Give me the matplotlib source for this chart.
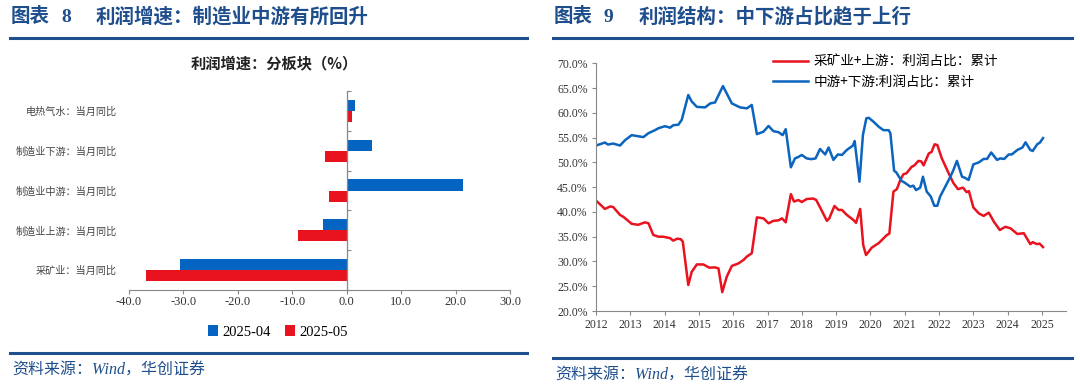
import matplotlib
matplotlib.use("Agg")
import matplotlib.pyplot as plt
import numpy as np

plt.rcParams['font.family'] = ['Noto Sans CJK SC', 'DejaVu Sans']

# ---------------- data: left bar chart ----------------
categories = ['采矿业：当月同比', '制造业上游：当月同比', '制造业中游：当月同比',
              '制造业下游：当月同比', '电热气水：当月同比']
apr_2025 = [-30.7, -4.3, 21.3, 4.6, 1.5]
may_2025 = [-36.8, -8.9, -3.2, -3.9, 0.9]
bar_labels = ['2025-04', '2025-05']
x_ticks_left = [-40, -30, -20, -10, 0, 10, 20, 30]

# ---------------- data: right line chart ----------------
blue_t = [2012.00, 2012.26, 2012.35, 2012.50, 2012.70, 2012.85, 2013.04, 2013.38, 2013.53, 2013.72,
          2013.82, 2014.01, 2014.16, 2014.25, 2014.40, 2014.50, 2014.69, 2014.79, 2014.94, 2015.18,
          2015.33, 2015.47, 2015.70, 2015.96, 2016.20, 2016.40, 2016.54, 2016.69, 2016.88, 2017.03,
          2017.17, 2017.32, 2017.44, 2017.53, 2017.68, 2017.80, 2017.90, 2018.00, 2018.14, 2018.28,
          2018.40, 2018.53, 2018.68, 2018.78, 2018.92, 2019.05, 2019.17, 2019.31, 2019.49, 2019.54,
          2019.68, 2019.78, 2019.88, 2019.95, 2020.09, 2020.24, 2020.38, 2020.53, 2020.58, 2020.69,
          2020.75, 2020.91, 2021.00, 2021.16, 2021.25, 2021.33, 2021.45, 2021.53, 2021.64, 2021.76,
          2021.86, 2021.95, 2022.03, 2022.18, 2022.33, 2022.42, 2022.52, 2022.67, 2022.75, 2022.86,
          2023.00, 2023.16, 2023.30, 2023.40, 2023.52, 2023.69, 2023.78, 2023.90, 2024.03, 2024.12,
          2024.28, 2024.43, 2024.52, 2024.66, 2024.73, 2024.86, 2024.94, 2025.03]
blue_v = [53.4, 54.0, 53.6, 53.8, 53.4, 54.5, 55.5, 55.1, 55.9, 56.5,
          56.9, 57.3, 57.0, 57.5, 57.6, 58.6, 63.6, 62.3, 61.2, 61.1,
          61.9, 62.1, 65.4, 61.9, 61.1, 60.9, 61.6, 55.7, 56.2, 57.35,
          56.3, 56.1, 55.5, 56.7, 49.0, 50.8, 51.1, 51.5, 50.8, 50.65,
          50.8, 52.7, 51.6, 53.0, 50.5, 51.6, 51.5, 52.5, 53.4, 54.3,
          46.1, 55.5, 58.9, 59.0, 58.2, 57.2, 56.5, 56.5, 55.9, 48.3,
          48.0, 46.25, 45.9, 45.1, 45.3, 44.4, 44.9, 47.1, 44.1, 43.1,
          41.25, 41.25, 43.1, 45.1, 47.1, 48.5, 50.3, 47.1, 46.9, 46.45,
          49.6, 50.0, 50.7, 50.7, 52.0, 50.5, 50.8, 50.7, 51.6, 51.6,
          52.5, 53.0, 54.05, 52.5, 52.3, 53.65, 54.0, 54.9]

red_t = [2012.00, 2012.26, 2012.41, 2012.50, 2012.70, 2012.80, 2013.04, 2013.23, 2013.43, 2013.53,
         2013.67, 2013.82, 2013.96, 2014.16, 2014.25, 2014.37, 2014.47, 2014.53, 2014.69, 2014.79,
         2014.94, 2015.13, 2015.30, 2015.47, 2015.57, 2015.68, 2015.81, 2015.96, 2016.15, 2016.30,
         2016.40, 2016.54, 2016.69, 2016.88, 2017.03, 2017.17, 2017.32, 2017.42, 2017.53, 2017.68,
         2017.77, 2017.90, 2018.00, 2018.14, 2018.33, 2018.42, 2018.57, 2018.73, 2018.80, 2018.95,
         2019.07, 2019.17, 2019.31, 2019.50, 2019.58, 2019.70, 2019.79, 2019.87, 2020.04, 2020.24,
         2020.48, 2020.55, 2020.67, 2020.77, 2020.87, 2020.96, 2021.05, 2021.20, 2021.28, 2021.40,
         2021.48, 2021.55, 2021.70, 2021.78, 2021.87, 2021.95, 2022.08, 2022.28, 2022.42, 2022.55,
         2022.70, 2022.80, 2022.87, 2023.00, 2023.16, 2023.30, 2023.45, 2023.60, 2023.77, 2023.93,
         2024.08, 2024.28, 2024.47, 2024.66, 2024.73, 2024.85, 2024.93, 2025.03]
red_v = [42.3, 40.6, 41.1, 41.0, 39.4, 39.0, 37.6, 37.4, 37.9, 37.7,
         35.35, 35.0, 35.0, 34.7, 34.2, 34.6, 34.5, 34.0, 25.25, 27.9,
         29.4, 29.4, 28.75, 28.8, 28.6, 23.8, 26.9, 29.1, 29.6, 30.3,
         31.0, 31.65, 38.9, 38.7, 37.7, 38.2, 38.3, 38.7, 37.9, 43.6,
         42.1, 42.4, 42.0, 42.6, 42.7, 42.4, 40.4, 38.2, 38.7, 41.2,
         40.4, 40.4, 39.4, 38.4, 37.8, 40.6, 33.3, 31.3, 32.8, 33.7,
         35.35, 35.6, 44.1, 44.6, 46.45, 47.6, 47.8, 49.1, 49.4, 50.3,
         50.2, 49.4, 51.8, 52.1, 53.65, 53.5, 50.8, 47.8, 45.8, 44.6,
         44.9, 44.0, 44.2, 40.9, 39.7, 39.2, 39.85, 38.0, 36.35, 37.0,
         36.7, 35.55, 35.7, 33.5, 33.9, 33.5, 33.6, 32.9]
line_labels = ['采矿业+上游：利润占比：累计', '中游+下游:利润占比：累计']
year_ticks = list(range(2012, 2026))
pct_ticks = [20, 25, 30, 35, 40, 45, 50, 55, 60, 65, 70]

# ---------------- styles ----------------
BLUE_BAR = '#0563C1'
RED_BAR = '#E8131F'
BLUE_LINE = '#0B64BE'
RED_LINE = '#E8131F'
NAVY = '#1F4E8C'
TXT = '#333333'
SERIF = ['Liberation Serif', 'DejaVu Serif']
CJK = ['Noto Sans CJK SC', 'DejaVu Sans']
MIX = ['Liberation Serif', 'Noto Sans CJK SC', 'DejaVu Sans']

fig = plt.figure(figsize=(10.8, 3.87), dpi=100)

def fx(px):
    return px / 1080.0

def fy(py):
    return 1 - py / 387.0

# headers
hdr = dict(color=NAVY, fontsize=14, fontweight='bold', va='center')
fig.text(fx(11), fy(17), '图表', family=CJK, **hdr)
fig.text(fx(61), fy(17), '8', family=SERIF, **hdr)
fig.text(fx(96), fy(17), '利润增速：制造业中游有所回升', family=CJK, **hdr)
fig.text(fx(554), fy(17), '图表', family=CJK, **hdr)
fig.text(fx(604), fy(17), '9', family=SERIF, **hdr)
fig.text(fx(639), fy(17), '利润结构：中下游占比趋于上行', family=CJK, **hdr)

for (x0, x1, yb) in [(10, 527, 353), (553, 1072, 358)]:
    fig.add_artist(plt.Line2D([fx(x0), fx(x1)], [fy(38), fy(38)], color=NAVY, lw=2.2))
    fig.add_artist(plt.Line2D([fx(x0), fx(x1)], [fy(yb), fy(yb)], color=NAVY, lw=2.2))

src = dict(color=NAVY, fontsize=11.5, style='italic', va='center', family=MIX)
fig.text(fx(12), fy(371), '资料来源：Wind，华创证券', **src)
fig.text(fx(555), fy(376), '资料来源：Wind，华创证券', **src)

# ---------------- left bar chart ----------------
L_LEFT, L_RIGHT, L_TOP, L_BOT = 129, 510, 91, 290
axL = fig.add_axes([fx(L_LEFT), fy(L_BOT), fx(L_RIGHT - L_LEFT), (L_BOT - L_TOP) / 387.0])
y = np.arange(len(categories))
h = 0.28
axL.barh(y + h / 2, apr_2025, height=h, color=BLUE_BAR, label=bar_labels[0])
axL.barh(y - h / 2, may_2025, height=h, color=RED_BAR, label=bar_labels[1])
axL.set_xlim(-40, 30)
axL.set_ylim(-0.5, len(categories) - 0.5)
axL.set_xticks(x_ticks_left)
axL.set_xticklabels([f'{v:.1f}' for v in x_ticks_left], family=SERIF, fontsize=9, color=TXT)
axL.set_yticks(y)
axL.set_yticklabels(categories, family=CJK, fontsize=7.3, color='#444444')
axL.tick_params(axis='y', length=0, pad=9)
axL.tick_params(axis='x', length=3, color='#888888', pad=1)
for s in ['top', 'right', 'left']:
    axL.spines[s].set_visible(False)
axL.spines['bottom'].set_color('#888888')
axL.axvline(0, color='#888888', lw=0.9)
sec = axL.secondary_yaxis((0 - (-40)) / 70.0)
sec.set_yticks(np.arange(len(categories) + 1) - 0.5)
sec.set_yticklabels([])
sec.tick_params(length=3, color='#888888', direction='out')
sec.spines['left'].set_visible(False)
sec.spines['right'].set_visible(False)
fig.text(fx(274), fy(63), '利润增速：分板块（%）', family=CJK, fontsize=11, fontweight='bold',
         color='#222222', ha='center', va='center')
legL = axL.legend(loc='center', bbox_to_anchor=((278 - L_LEFT) / (L_RIGHT - L_LEFT), -(332 - L_BOT) / (L_BOT - L_TOP)),
                  ncol=2, frameon=False, handlelength=0.7, handleheight=0.7, handletextpad=0.3,
                  columnspacing=1.0, prop={'family': SERIF, 'size': 10.5})

# ---------------- right line chart ----------------
axR = fig.add_axes([fx(596), fy(311), fx(470), 247.7 / 387.0])
axR.plot(red_t, red_v, color=RED_LINE, lw=1.8, label=line_labels[0])
axR.plot(blue_t, blue_v, color=BLUE_LINE, lw=1.8, label=line_labels[1])
axR.set_xlim(2012, 2025.7)
axR.set_ylim(20, 70)
axR.set_xticks(year_ticks)
axR.set_xticklabels([str(v) for v in year_ticks], family=SERIF, fontsize=8.5, color=TXT)
axR.set_yticks(pct_ticks)
axR.set_yticklabels([f'{v:.1f}%' for v in pct_ticks], family=SERIF, fontsize=8.5, color=TXT)
axR.tick_params(length=3, color='#888888', pad=3)
for s in ['top', 'right']:
    axR.spines[s].set_visible(False)
for s in ['left', 'bottom']:
    axR.spines[s].set_color('#888888')
axR.legend(loc='upper left', bbox_to_anchor=(0.35, 1.085), frameon=False, handlelength=2.6,
           handletextpad=0.4, labelspacing=0.45, prop={'family': CJK, 'size': 9.8})

fig.savefig('out.png', dpi=100)
